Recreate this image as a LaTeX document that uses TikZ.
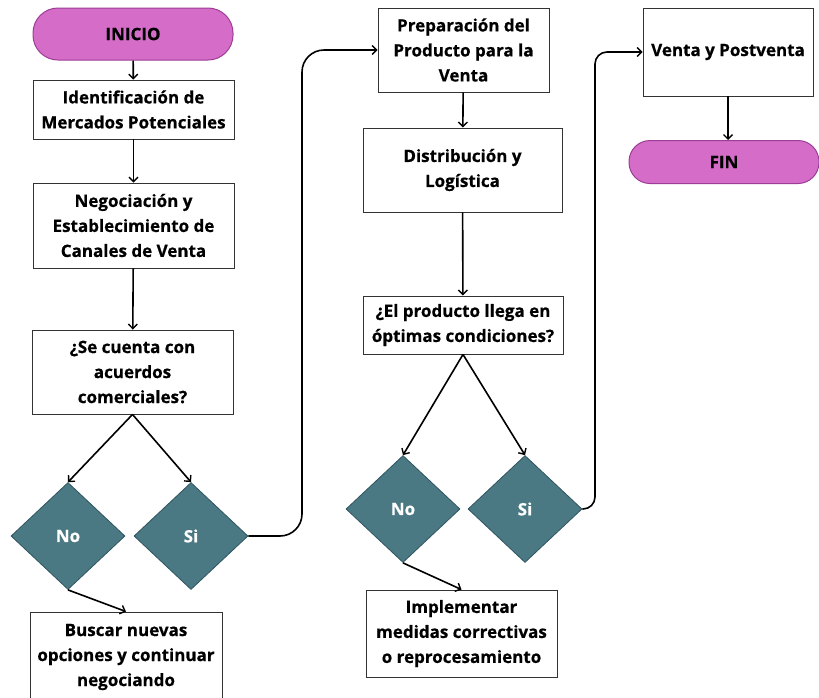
\documentclass[tikz,border=0pt]{standalone}
\usepackage{fontspec}
\setmainfont{Open Sans}[BoldFeatures={FakeBold=0.6}]
\usetikzlibrary{arrows.meta,shapes.geometric}
\definecolor{pillfill}{HTML}{D46CC8}
\definecolor{pilledge}{HTML}{9C3E95}
\definecolor{decfill}{HTML}{4A7883}
\definecolor{decedge}{HTML}{2E5560}
\definecolor{boxedge}{HTML}{333333}
\tikzset{
  every node/.style={font=\bfseries\fontsize{17}{25}\selectfont, align=center},
  pill/.style={rectangle, rounded corners=25pt, fill=pillfill, draw=pilledge, line width=1pt, inner sep=0pt},
  stepbox/.style={rectangle, draw=boxedge, line width=0.9pt, fill=white, inner sep=0pt},
  decision/.style={diamond, fill=decfill, draw=decedge, line width=0.8pt, inner sep=0pt, text=white,
                   minimum width=114pt, minimum height=107pt},
  arr/.style={line width=1.6pt, -{Straight Barb[length=4.5pt,width=9pt,line width=1.4pt]}},
}
\begin{document}
\begin{tikzpicture}[x=1pt,y=-1pt]
\useasboundingbox (0,0) rectangle (819,697);
\fill[white] (0,0) rectangle (819,697);

% first column
\node[pill, minimum width=200pt, minimum height=52pt] (inicio) at (133,34) {INICIO};
\node[stepbox, minimum width=201pt, minimum height=59pt] (ident) at (133.5,109.5) {Identificación de\\Mercados Potenciales};
\node[stepbox, minimum width=201pt, minimum height=85pt] (nego) at (133.5,225.5) {Negociación y\\Establecimiento de\\Canales de Venta};
\node[stepbox, minimum width=201pt, minimum height=84pt] (acuerdos) at (132.5,372) {¿Se cuenta con\\acuerdos\\comerciales?};
\node[decision] (no1) at (68,536) {No};
\node[decision] (si1) at (191,536) {Si};
\node[stepbox, minimum width=192pt, minimum height=90pt] (buscar) at (126,657) {Buscar nuevas\\opciones y continuar\\negociando};

% second column
\node[stepbox, minimum width=171pt, minimum height=84pt] (prep) at (463.5,50) {Preparación del\\Producto para la\\Venta};
\node[stepbox, minimum width=199pt, minimum height=84pt] (distr) at (462.5,170) {Distribución y\\Logística};
\node[stepbox, minimum width=200pt, minimum height=58pt] (llega) at (463,325) {¿El producto llega en\\óptimas condiciones?};
\node[decision] (no2) at (403,509) {No};
\node[decision] (si2) at (525,509) {Si};
\node[stepbox, minimum width=191pt, minimum height=87pt] (implem) at (461.5,633.5) {Implementar\\medidas correctivas\\o reprocesamiento};

% third column
\node[stepbox, minimum width=170pt, minimum height=88pt] (venta) at (728,52) {Venta y Postventa};
\node[pill, minimum width=190pt, minimum height=43pt, rounded corners=21pt] (fin) at (724,162) {FIN};

% connectors
\draw[arr] (inicio) -- (ident);
\draw[arr] (ident) -- (nego);
\draw[arr] (nego) -- (acuerdos);
\draw[arr] (acuerdos.south) -- (no1.north);
\draw[arr] (acuerdos.south) -- (si1.north);
\draw[arr] (no1.south) -- (buscar.north);
\draw[arr, rounded corners=22pt] (si1.east) -- (302,536) -- (302,50) -- (prep.west);

\draw[arr] (prep) -- (distr);
\draw[arr] (distr) -- (llega);
\draw[arr] (llega.south) -- (no2.north);
\draw[arr] (llega.south) -- (si2.north);
\draw[arr] (no2.south) -- (implem.north);
\draw[arr, rounded corners=12pt] (si2.east) -- (595,509) -- (595,52) -- (venta.west);

\draw[arr] (venta.south) -- (venta.south |- fin.north);
\end{tikzpicture}
\end{document}
